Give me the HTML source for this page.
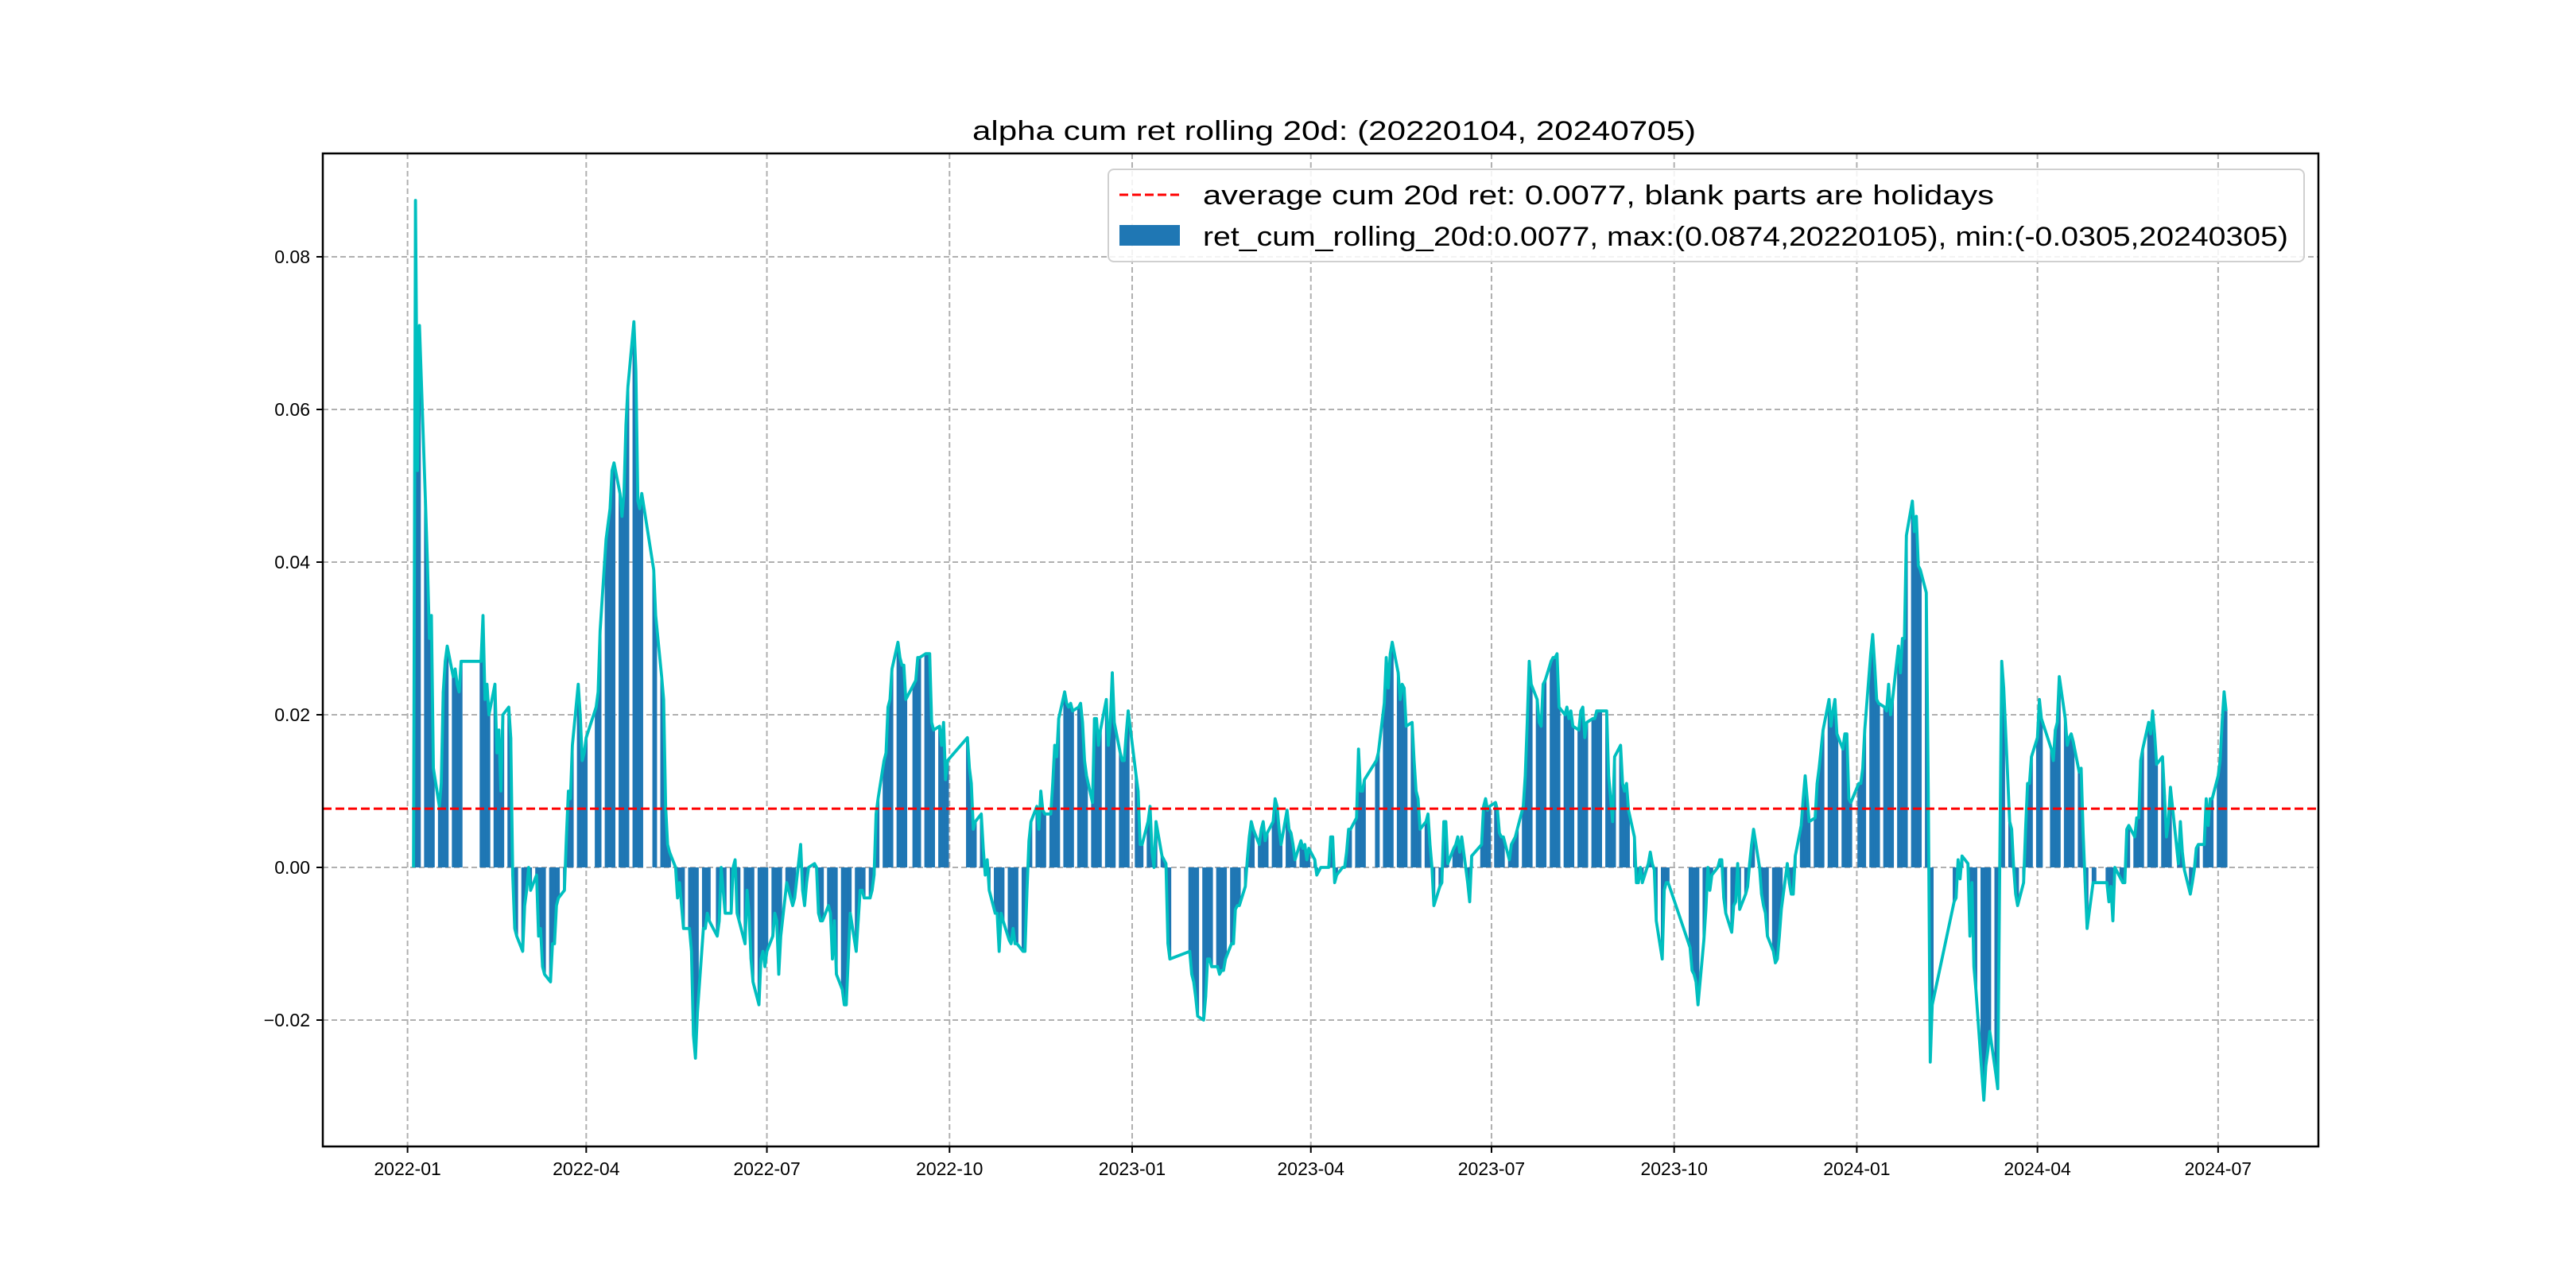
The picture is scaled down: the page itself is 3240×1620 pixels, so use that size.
<!DOCTYPE html>
<html>
<head>
<meta charset="utf-8">
<style>
html,body{margin:0;padding:0;background:#fff;}
svg{display:block;}
text{font-family:"Liberation Sans","Noto Sans CJK SC",sans-serif;fill:#000;}
</style>
</head>
<body>
<svg id="chart" width="3240" height="1620" viewBox="0 0 3240 1620" xmlns="http://www.w3.org/2000/svg">
  <rect x="0" y="0" width="3240" height="1620" fill="#fff"/>
  <text x="1678" y="176" font-size="34" text-anchor="middle" textLength="910" lengthAdjust="spacingAndGlyphs">alpha cum ret rolling 20d: (20220104, 20240705)</text>
  <g id="grid"></g>
  <g id="bars"></g>
  <g id="lineg"></g>
  <g id="avg"></g>
  <rect x="406" y="193" width="2510" height="1249" fill="none" stroke="#000" stroke-width="2.5"/>
  <g id="yaxis"></g>
  <g id="xaxis"></g>
  <g>
    <rect x="1394" y="213" width="1504" height="116" rx="7" fill="#fff" fill-opacity="0.85" stroke="#d0d0d0" stroke-width="2"/>
    <line x1="1408" y1="245" x2="1484" y2="245" stroke="#ff0000" stroke-width="3" stroke-dasharray="11,5"/>
    <text x="1513" y="257" font-size="34" textLength="995" lengthAdjust="spacingAndGlyphs">average cum 20d ret: 0.0077, blank parts are holidays</text>
    <rect x="1408" y="283" width="76" height="26" fill="#1f77b4"/>
    <text x="1513" y="309" font-size="34" textLength="1365" lengthAdjust="spacingAndGlyphs">ret_cum_rolling_20d:0.0077, max:(0.0874,20220105), min:(-0.0305,20240305)</text>
  </g>
</svg>
<script>
// week start dates (Mondays) and daily values (units of 0.001), null = holiday
const weekStarts = ["2022-01-03","2022-01-10","2022-01-17","2022-01-24","2022-02-07","2022-02-14","2022-02-21","2022-02-28","2022-03-07","2022-03-14","2022-03-21","2022-03-28","2022-04-04","2022-04-11","2022-04-18","2022-04-25","2022-05-02","2022-05-09","2022-05-16","2022-05-23","2022-05-30","2022-06-06","2022-06-13","2022-06-20","2022-06-27","2022-07-04","2022-07-11","2022-07-18","2022-07-25","2022-08-01","2022-08-08","2022-08-15","2022-08-22","2022-08-29","2022-09-05","2022-09-12","2022-09-19","2022-09-26","2022-10-10","2022-10-17","2022-10-24","2022-10-31","2022-11-07","2022-11-14","2022-11-21","2022-11-28","2022-12-05","2022-12-12","2022-12-19","2022-12-26","2023-01-02","2023-01-09","2023-01-16","2023-01-30","2023-02-06","2023-02-13","2023-02-20","2023-02-27","2023-03-06","2023-03-13","2023-03-20","2023-03-27","2023-04-03","2023-04-10","2023-04-17","2023-04-24","2023-05-01","2023-05-08","2023-05-15","2023-05-22","2023-05-29","2023-06-05","2023-06-12","2023-06-19","2023-06-26","2023-07-03","2023-07-10","2023-07-17","2023-07-24","2023-07-31","2023-08-07","2023-08-14","2023-08-21","2023-08-28","2023-09-04","2023-09-11","2023-09-18","2023-09-25","2023-10-09","2023-10-16","2023-10-23","2023-10-30","2023-11-06","2023-11-13","2023-11-20","2023-11-27","2023-12-04","2023-12-11","2023-12-18","2023-12-25","2024-01-01","2024-01-08","2024-01-15","2024-01-22","2024-01-29","2024-02-05","2024-02-19","2024-02-26","2024-03-04","2024-03-11","2024-03-18","2024-03-25","2024-04-01","2024-04-08","2024-04-15","2024-04-22","2024-04-29","2024-05-06","2024-05-13","2024-05-20","2024-05-27","2024-06-03","2024-06-10","2024-06-17","2024-06-24","2024-07-01"];
const weekValues = [
[null,0,87.4,52,71],[48,40,30,33,13],[8,11,23,27,29],[25,26,24,23,27],[27,33,22,24,20],[24,15,18,10,20],[21,17,-1,-8,-9],[-11,-5,-3,0,-3],[-1,-9,-8,-13,-14],[-15,-10,-10,-5,-4],[-3,4,10,9,16],[24,20,14,15,17],[null,null,21,23,31],[43,45,47,52,53],[49,46,49,58,63],[71.5,65,48,47,49],[null,null,null,39,33],[25,22,8,3,2],[0,-4,-2,-5,-8],[-8,-11,-22,-25,-19],[-8,-8,-6,-7,null],[-9,-7,0,-3,-6],[-6,0,1,-6,-7],[-10,-3,-6,-12,-15],[-18,-12,-11,-13,-11],[-9,-6,-7,-14,-9],[-2,-3,-4,-5,-4],[3,-3,-5,-2,0],[0.5,0,-6,-7,-7],[-5,-6,-12,-7,-14],[-16,-18,-18,-12,-6],[-11,-7,-3,-3,-4],[-4,-3,-1,7,9],[14,15,21,22,26],[29.5,27.5,26.5,26.5,22],[null,24,24.5,27.5,27.5],[28,28,28,19,18],[18.5,16,19,11.5,14],[17,13,11,5,6],[7,2.5,-1,1,-3],[-6,-6,-11,-6,-7],[-9.5,-10,-8,-10,-10],[-11,-11,-3,3.5,6],[8,5,10,7.5,7],[7,11,16,14.5,19.5],[23,21.5,21,21.5,20.5],[21,21.5,19,14,12],[8.5,19.5,19.5,16,18],[22,16,19,25.5,19],[15,14,14,17.5,20.5],
[null,12,10,3,3],[6,8,2,0,6],[1.5,1,0.5,-10,-12],[-11,-14,-15,-17,-19.5],[-20,-17,-12,-12,-13],[-13,-14,-13.5,-13.5,-12],[-10,-10,-5.5,-5,-5],[-2.5,1,4,6,5],[3,5,6,3.5,4.5],[6,9,8,5,3],[7.5,5,4.5,3,1],[3.5,2.5,3,1,2.5],[1,-1,null,0,0],[0,4,4,-2,-1],[0,0,2,5,5],[6.5,15.5,10,10,11.5],[null,null,null,14,15],[21.5,27.5,23.5,28,29.5],[25.5,22,24,23.5,18.5],[19,14,10,9,5],[6,7,3,0,-5],[-2.5,-2,6,6,0.5],[2.5,3,4,2,4],[-2,-4.5,1.5,null,null],[3,8,9,7.5,8],[8.5,7.5,4.5,4,4],[1,3,3.5,4,5],[8,12,19,27,24],[22,19,18.5,24,24.5],[27,27.5,27.5,28,21],[20,21,19.5,20.5,18.5],[18,20.5,21,17,19],[19.5,19.5,20.5,20.5,20.5],[20.5,12,9,6,14.5],[16,11,10,11,7.5],[4,-2,-2,0,-2],[0.5,2,0.5,-0.3,-7],[-12,-3,-2,-2,null],[-10.5,-13.5,-14,-15,-18],[-9.5,-5.5,0,-3,-1],[0,1,1,-4,-6],[-8.5,-5,-4.5,0.5,-5.5],[-3.5,-2.5,0.5,3,5],[0,-3.5,-5,-6,-9],[-11,-12.5,-12,-9,-5.5],[0.5,-2,-3.5,-3.5,1.5],[5.5,9,12,9,6],[6.5,11,13,15.5,18],[22,18.5,20.5,22,17.5],[15.5,17.5,17.5,9,8.5],
[null,11,11,13,18],[28,30.5,26.5,22,21.5],[21,20.5,24,20,22],[29,25.5,30,30,43.5],[48,44,46,39.5,39],[36,10,-25.5,-18,null],[-4.5,-4,1,-1.5,1.5],[0.5,-9,-2,-13,-16],[-27,-30.5,-26,-24,-21.5],[-27,-29,0,27,23.5],[6,5,0,-3.5,-5],[-2,5,11,11,14.5],[17,22,19.5,null,null],[15.5,14,18,19,25],[19.5,16,17,17.5,16.5],[12.5,13,4.5,-2,-8],[-2,-2,null,null,null],[-2,-4.5,-2.5,-7,0],[-1.5,-2,-2,5,5.5],[4,6.5,6.5,14,15.5],[19,17.5,20.5,17.5,13.5],[14.5,9.5,4,6,10.5],[null,0.5,6,2,-0.3],[-3.5,-2,-0.3,2.5,3],[3,9,5.5,9,9],[12,14,19,23,20.5]
];
const averageValue = 0.0077;
const yTicks = [-0.02, 0.00, 0.02, 0.04, 0.06, 0.08];
const yTickLabels = ["\u22120.02","0.00","0.02","0.04","0.06","0.08"];
const xTicks = ["2022-01-01","2022-04-01","2022-07-01","2022-10-01","2023-01-01","2023-04-01","2023-07-01","2023-10-01","2024-01-01","2024-04-01","2024-07-01"];
const xTickLabels = ["2022-01","2022-04","2022-07","2022-10","2023-01","2023-04","2023-07","2023-10","2024-01","2024-04","2024-07"];

const NS = "http://www.w3.org/2000/svg";
const PL = 406, PR = 2916, PT = 193, PB = 1442;
const origin = Date.UTC(2022,0,1);
function dayOf(s){ const p=s.split("-"); return (Date.UTC(+p[0],+p[1]-1,+p[2])-origin)/864e5; }
function xScale(d){ return 512.6 + d*2.497; }
function yScale(v){ return 1091 - v*9600; }
function mk(tag, attrs, parent){ const e=document.createElementNS(NS,tag); for(const k in attrs) e.setAttribute(k,attrs[k]); parent.appendChild(e); return e; }

const pts = [];
weekStarts.forEach((w,i)=>{ const d0=dayOf(w); weekValues[i].forEach((v,j)=>{ if(v!==null) pts.push({d:d0+j, v:v/1000}); }); });

const grid = document.getElementById("grid");
yTicks.forEach((t)=>{
  const g = mk("line",{x1:PL,x2:PR,y1:yScale(t),y2:yScale(t),stroke:"#b0b0b0","stroke-width":2,"stroke-dasharray":"7,4"},grid);
  
  
});
xTicks.forEach((t)=>{
  const x=xScale(dayOf(t));
  const g = mk("line",{x1:x,x2:x,y1:PT,y2:PB,stroke:"#b0b0b0","stroke-width":2,"stroke-dasharray":"7,4"},grid);
  
  
});

const bars = document.getElementById("bars");
const y0 = yScale(0);
pts.forEach(p=>{
  const y=yScale(p.v);
  const r = mk("rect",{x:xScale(p.d)-1.7,width:3.4,y:Math.min(y,y0),height:Math.max(Math.abs(y-y0),0.01),fill:"#1f77b4"},bars);
  
  
});

const lineg = document.getElementById("lineg");
const path = mk("polyline",{points:pts.map(p=>xScale(p.d).toFixed(1)+","+yScale(p.v).toFixed(1)).join(" "),fill:"none",stroke:"#00bfbf","stroke-width":3.8,"stroke-linejoin":"round"},lineg);



const avg = document.getElementById("avg");
const al = mk("line",{x1:PL,x2:PR,y1:yScale(averageValue),y2:yScale(averageValue),stroke:"#ff0000","stroke-width":3,"stroke-dasharray":"11,5"},avg);



const ya = document.getElementById("yaxis");
yTicks.forEach((t,i)=>{
  const y=yScale(t);
  const tk = mk("line",{x1:PL-8,x2:PL,y1:y,y2:y,stroke:"#000","stroke-width":2},ya);
  
  
  const tx = mk("text",{x:PL-16,y:y+8,"font-size":23,"text-anchor":"end"},ya);
  tx.textContent = yTickLabels[i];
  
  
});
const xa = document.getElementById("xaxis");
xTicks.forEach((t,i)=>{
  const x=xScale(dayOf(t));
  const tk = mk("line",{x1:x,x2:x,y1:PB,y2:PB+8,stroke:"#000","stroke-width":2},xa);
  
  
  const tx = mk("text",{x:x,y:PB+36,"font-size":23,"text-anchor":"middle"},xa);
  tx.textContent = xTickLabels[i];
  
  
});
</script>
</body>
</html>
